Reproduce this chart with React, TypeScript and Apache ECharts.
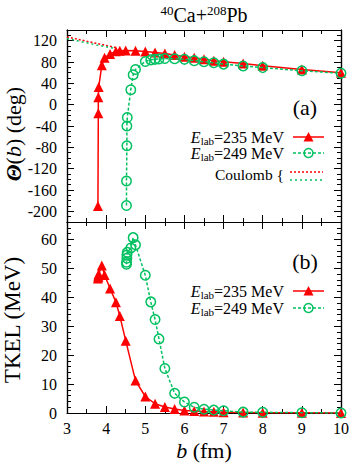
import React, { useEffect, useRef } from "react";
import * as echarts from "echarts";

// ---- data ----
const bRed = [3.79, 3.8, 3.8, 3.81, 3.89, 3.96, 4.1, 4.25, 4.35, 4.5, 4.75, 5.0, 5.25, 5.5, 5.75, 6.0, 6.25, 6.5, 6.75, 7.0, 7.5, 8.0, 9.0, 10.0];
const thetaRed = [-190, -16, 14, 33, 74, 88, 95, 100, 101, 101.5, 101, 99.5, 98, 96, 93, 90, 88, 85, 82.5, 80.5, 77, 73, 66, 60];
const tkelRed = [46.5, 47, 47.5, 48, 51, 47.7, 43, 38.3, 33.5, 25, 11.2, 5.7, 3.2, 2.1, 1.4, 0.9, 0.7, 0.5, 0.4, 0.3, 0.2, 0.1, 0.05, 0];

const bGreen = [4.52, 4.52, 4.53, 4.53, 4.54, 4.63, 4.69, 4.75, 5.0, 5.14, 5.25, 5.35, 5.5, 5.75, 6.0, 6.25, 6.5, 6.75, 7.0, 7.5, 8.0, 9.0, 10.0];
const thetaGreen = [-189, -143, -77, -40, -24, 28, 56, 66, 81, 84, 85, 85.5, 86.5, 86, 85, 82.5, 80.5, 78.5, 76, 72.5, 69.5, 63.5, 59];
const tkelGreen = [51.4, 52.1, 53.5, 54.6, 55.5, 57, 60.6, 58.1, 47.6, 38.4, 32.3, 25.6, 15.4, 6.8, 3.8, 2.0, 1.3, 1.0, 0.8, 0.3, 0.25, 0.1, 0];

const bCoul = [3.0, 3.25, 3.5, 3.75, 4.0, 4.25];
const coulRed = [127, 123, 119, 115, 111, 107];
const coulGreen = [124, 120, 116, 112, 108.5, 105];

const thetaTicks = [-200, -160, -120, -80, -40, 0, 40, 80, 120];
const tkelTicks = [0, 10, 20, 30, 40, 50, 60];

const range = (a: number, b: number, s: number) => {
  const out: number[] = [];
  for (let v = a; v <= b + 1e-9; v += s) out.push(Math.round(v * 1000) / 1000);
  return out;
};
const thetaMinor = range(-220, 140, 10);
const tkelMinor = range(0, 66, 2);

const FONT = '"Liberation Serif", "Times New Roman", serif';
const RED = "#ff0000";
const GREEN = "#00c060";
const zip = (xs: number[], ys: number[]) => xs.map((x, i) => [x, ys[i]]);

const axisLine = { show: true, onZero: false, lineStyle: { color: "#000", width: 1.2 } };

const xAx = (grid: number, pos: string, labels: boolean) => ({
  type: "value",
  gridIndex: grid,
  position: pos,
  min: 3,
  max: 10,
  interval: 1,
  axisLine,
  axisTick: { show: true, inside: true, length: 7, lineStyle: { color: "#000", width: 1 } },
  minorTick: { show: true, splitNumber: 2, length: 4, lineStyle: { color: "#000", width: 1 } },
  axisLabel: { show: labels, margin: 7, fontSize: 16, color: "#000", fontFamily: FONT },
  splitLine: { show: false },
  minorSplitLine: { show: false },
});

const yAx = (grid: number, pos: string, min: number, max: number, vals: number[], len: number, labels: boolean) => ({
  type: "value",
  gridIndex: grid,
  position: pos,
  min,
  max,
  axisLine,
  axisTick: { show: true, inside: true, length: len, customValues: vals, lineStyle: { color: "#000", width: 1 } },
  axisLabel: { show: labels, customValues: vals, margin: 10, fontSize: 16, color: "#000", fontFamily: FONT },
  splitLine: { show: false },
});

const subRich = {
  e: { fontStyle: "italic", fontSize: 16, fontFamily: FONT, lineHeight: 18 },
  s: { fontSize: 11, fontFamily: FONT, verticalAlign: "bottom", lineHeight: 6 },
  n: { fontSize: 16, fontFamily: FONT, lineHeight: 18 },
};

const legendEntry = (y: number, label: string, color: string, dash: any, marker: string) => {
  const els: any[] = [
    {
      type: "text",
      z: 100,
      style: { x: 284, y, text: `{e|E}{s|lab}{n|=${label} MeV}`, align: "right", verticalAlign: "middle", rich: subRich, fill: "#000" },
    },
    { type: "line", z: 100, shape: { x1: 293, y1: y, x2: 324, y2: y }, style: { stroke: color, lineWidth: 1.5, lineDash: dash } },
  ];
  if (marker === "tri") {
    els.push({ type: "polygon", z: 101, shape: { points: [[303.5, y + 4.5], [313.5, y + 4.5], [308.5, y - 5]] }, style: { fill: color } });
  } else {
    els.push({ type: "circle", z: 101, shape: { cx: 308.5, cy: y, r: 4.5 }, style: { fill: "none", stroke: color, lineWidth: 1.5 } });
  }
  return els;
};

export default function App() {
  const ref = useRef<HTMLDivElement>(null);
  useEffect(() => {
    if (!ref.current) return;
    const chart = echarts.init(ref.current, null, { renderer: "svg" });
    const option: any = {
      animation: false,
      backgroundColor: "#fff",
      grid: [
        { left: 67, top: 30, width: 274, height: 192 },
        { left: 67, top: 222, width: 274, height: 191 },
      ],
      xAxis: [xAx(0, "bottom", false), xAx(0, "top", false), xAx(1, "bottom", true), xAx(1, "top", false)],
      yAxis: [
        yAx(0, "left", -220, 140, thetaTicks, 7, true),
        yAx(0, "left", -220, 140, thetaMinor, 4, false),
        yAx(0, "right", -220, 140, thetaTicks, 7, false),
        yAx(0, "right", -220, 140, thetaMinor, 4, false),
        yAx(1, "left", 0, 66, tkelTicks, 7, true),
        yAx(1, "left", 0, 66, tkelMinor, 4, false),
        yAx(1, "right", 0, 66, tkelTicks, 7, false),
        yAx(1, "right", 0, 66, tkelMinor, 4, false),
      ],
      series: [
        {
          type: "line", xAxisIndex: 0, yAxisIndex: 0, data: zip(bCoul, coulRed), symbol: "none",
          lineStyle: { color: RED, width: 1.5, type: [2, 2] }, z: 1,
        },
        {
          type: "line", xAxisIndex: 0, yAxisIndex: 0, data: zip(bCoul, coulGreen), symbol: "none",
          lineStyle: { color: GREEN, width: 1.5, type: [2, 3] }, z: 1,
        },
        {
          type: "line", xAxisIndex: 0, yAxisIndex: 0, data: zip(bRed, thetaRed), symbol: "triangle", symbolSize: 10,
          itemStyle: { color: RED }, lineStyle: { color: RED, width: 1.5 }, z: 3,
        },
        {
          type: "line", xAxisIndex: 0, yAxisIndex: 0, data: zip(bGreen, thetaGreen), symbol: "circle", symbolSize: 9.5,
          itemStyle: { color: "transparent", borderColor: GREEN, borderWidth: 1.5 },
          lineStyle: { color: GREEN, width: 1.5, type: [3, 2] }, z: 4,
        },
        {
          type: "line", xAxisIndex: 2, yAxisIndex: 4, data: zip(bRed, tkelRed), symbol: "triangle", symbolSize: 10,
          itemStyle: { color: RED }, lineStyle: { color: RED, width: 1.5 }, z: 3,
        },
        {
          type: "line", xAxisIndex: 2, yAxisIndex: 4, data: zip(bGreen, tkelGreen), symbol: "circle", symbolSize: 9.5,
          itemStyle: { color: "transparent", borderColor: GREEN, borderWidth: 1.5 },
          lineStyle: { color: GREEN, width: 1.5, type: [3, 2] }, z: 4,
        },
      ],
      graphic: [
        {
          type: "text", z: 100,
          style: {
            x: 204, y: 15, text: "{p|40}{m|Ca+}{p|208}{m|Pb}", align: "center", verticalAlign: "middle",
            rich: {
              p: { fontSize: 13, fontFamily: FONT, verticalAlign: "top", lineHeight: 10 },
              m: { fontSize: 20, fontFamily: FONT, lineHeight: 22 },
            },
          },
        },
        {
          type: "text", z: 100, x: 13, y: 134, rotation: Math.PI / 2,
          style: {
            x: 0, y: 0, text: "{t|Θ}{n|(}{i|b}{n|) (deg)}", align: "center", verticalAlign: "middle",
            rich: {
              t: { fontSize: 22, fontFamily: FONT, fontStyle: "italic", fontWeight: "bold" },
              i: { fontSize: 22, fontFamily: FONT, fontStyle: "italic" },
              n: { fontSize: 22, fontFamily: FONT },
            },
          },
        },
        {
          type: "text", z: 100, x: 12, y: 320, rotation: Math.PI / 2,
          style: { x: 0, y: 0, text: "TKEL (MeV)", align: "center", verticalAlign: "middle", fontSize: 23, fontFamily: FONT, fill: "#000" },
        },
        {
          type: "text", z: 100,
          style: {
            x: 204, y: 450, text: "{i|b}{n| (fm)}", align: "center", verticalAlign: "middle",
            rich: {
              i: { fontSize: 22, fontFamily: FONT, fontStyle: "italic" },
              n: { fontSize: 22, fontFamily: FONT },
            },
          },
        },
        { type: "text", z: 100, style: { x: 305, y: 107, text: "(a)", align: "center", verticalAlign: "middle", fontSize: 22, fontFamily: FONT, fill: "#000" } },
        { type: "text", z: 100, style: { x: 305, y: 261, text: "(b)", align: "center", verticalAlign: "middle", fontSize: 22, fontFamily: FONT, fill: "#000" } },
        ...legendEntry(137, "235", RED, null, "tri"),
        ...legendEntry(153, "249", GREEN, [3, 2], "circ"),
        { type: "text", z: 100, style: { x: 284, y: 174, text: "Coulomb {", align: "right", verticalAlign: "middle", fontSize: 15.5, fontFamily: FONT, fill: "#000" } },
        { type: "line", z: 100, shape: { x1: 290, y1: 172, x2: 323, y2: 172 }, style: { stroke: RED, lineWidth: 1.5, lineDash: [2, 2] } },
        { type: "line", z: 100, shape: { x1: 290, y1: 180, x2: 323, y2: 180 }, style: { stroke: GREEN, lineWidth: 1.5, lineDash: [2, 3] } },
        ...legendEntry(291, "235", RED, null, "tri"),
        ...legendEntry(308, "249", GREEN, [3, 2], "circ"),
      ],
    };
    chart.setOption(option);
    return () => chart.dispose();
  }, []);
  return <div ref={ref} style={{ position: "fixed", left: 0, top: 0, width: 354, height: 466, background: "#fff" }} />;
}
